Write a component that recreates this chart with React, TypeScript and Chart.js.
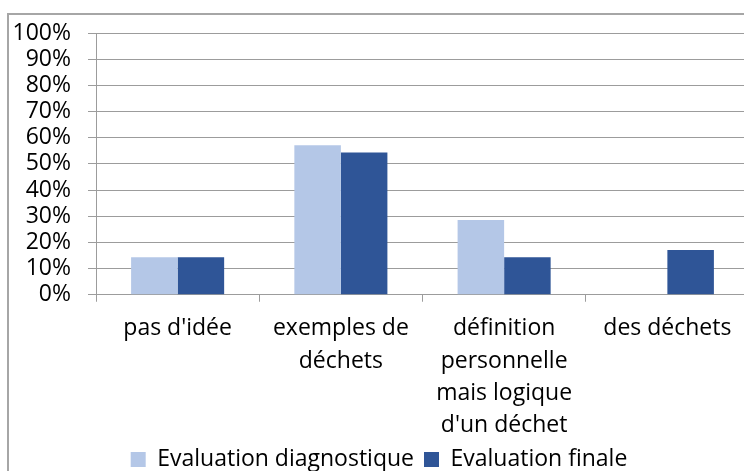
import React, { useEffect, useRef } from "react";
import { Chart, registerables } from "chart.js";

Chart.register(...registerables);

const categories: (string | string[])[] = [
  "pas d'idée",
  ["exemples de", "déchets"],
  ["définition", "personnelle", "mais logique", "d'un déchet"],
  "des déchets",
];
const seriesNames = ["Evaluation diagnostique", "Evaluation finale"];
const diagnostique = [14.3, 57.1, 28.6, 0];
const finale = [14.3, 54.3, 14.3, 17.1];
const yTicks = [0, 10, 20, 30, 40, 50, 60, 70, 80, 90, 100];

const FONT = "'Open Sans', 'DejaVu Sans', sans-serif";

export default function App() {
  const ref = useRef<HTMLCanvasElement | null>(null);

  useEffect(() => {
    if (!ref.current) return;
    const chart = new Chart(ref.current, {
      type: "bar",
      data: {
        labels: categories,
        datasets: [
          {
            label: seriesNames[0],
            data: diagnostique,
            backgroundColor: "#B4C7E7",
            borderWidth: 0,
            categoryPercentage: 0.57,
            barPercentage: 1,
          },
          {
            label: seriesNames[1],
            data: finale,
            backgroundColor: "#2F5597",
            borderWidth: 0,
            categoryPercentage: 0.57,
            barPercentage: 1,
          },
        ],
      },
      options: {
        responsive: false,
        animation: false,
        layout: { padding: { left: 0, right: 6, top: 0, bottom: 0 } },
        plugins: {
          legend: {
            position: "bottom",
            labels: {
              boxWidth: 15,
              boxHeight: 15,
              padding: 10,
              color: "#000",
              font: { family: FONT, size: 23 },
            },
          },
          tooltip: { enabled: false },
        },
        scales: {
          x: {
            afterFit: (scale: any) => {
              scale.height = scale.height - 15;
            },
            grid: {
              offset: true,
              drawOnChartArea: false,
              tickLength: 7,
              color: "#9c9c9c",
            },
            border: { color: "#9c9c9c" },
            ticks: {
              color: "#000",
              padding: 11,
              maxRotation: 0,
              autoSkip: false,
              font: { family: FONT, size: 23, lineHeight: 1.405 },
            },
          },
          y: {
            min: 0,
            max: 100,
            afterBuildTicks: (scale: any) => {
              scale.ticks = yTicks.map((v) => ({ value: v }));
            },
            afterFit: (scale: any) => {
              scale.width = 87;
              scale.paddingTop = 18;
              scale.paddingBottom = 0;
            },
            grid: { color: "#9c9c9c", tickLength: 8 },
            border: { color: "#9c9c9c" },
            ticks: {
              color: "#000",
              padding: 17,
              autoSkip: false,
              callback: (v: any) => v + "%",
              font: { family: FONT, size: 23, lineHeight: 1.15 },
            },
          },
        },
      },
    });
    return () => chart.destroy();
  }, []);

  return (
    <div
      style={{
        position: "absolute",
        left: 0,
        top: 0,
        width: 744,
        height: 471,
        overflow: "hidden",
        background: "#fff",
      }}
    >
      <div
        style={{
          position: "absolute",
          left: 7,
          top: 13,
          width: 750,
          height: 472,
          border: "2px solid #a6a6a6",
          boxSizing: "border-box",
        }}
      >
        <canvas ref={ref} width={746} height={466} style={{ display: "block" }} />
      </div>
    </div>
  );
}
